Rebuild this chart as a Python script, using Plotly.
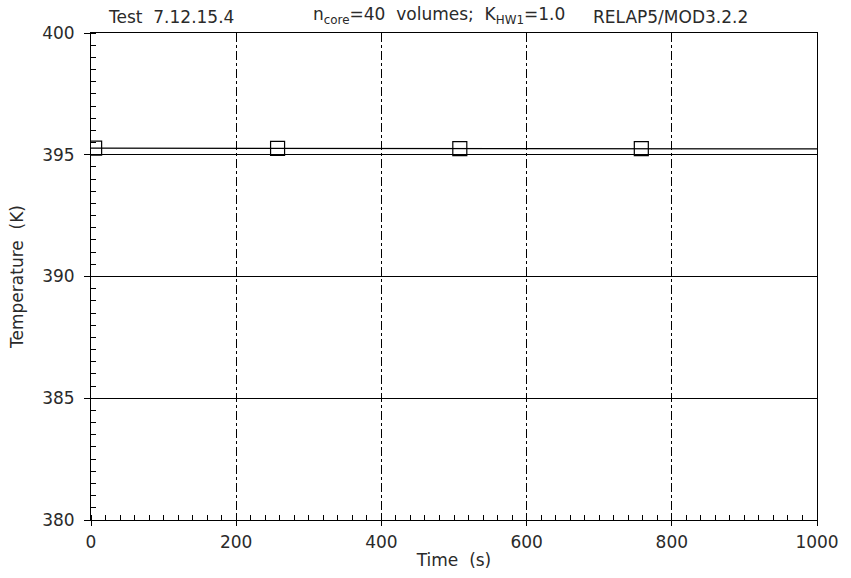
import plotly.graph_objects as go

# Temperature history (RELAP5 run)
time_s = [0, 125, 250, 375, 500, 625, 750, 875, 1000]
temp_k = [395.27, 395.27, 395.26, 395.26, 395.25, 395.25, 395.25, 395.24, 395.24]

# Symbol positions along the curve
mark_time_s = [5, 257, 508, 758]
mark_temp_k = [395.27, 395.26, 395.25, 395.25]

x_ticks = [0, 200, 400, 600, 800, 1000]
y_ticks = [380, 385, 390, 395, 400]

FONT = "DejaVu Sans"
INK = "#2a2a2a"
FS = 17

fig = go.Figure()
fig.add_trace(go.Scatter(
    x=time_s, y=temp_k, mode="lines",
    line=dict(color="black", width=1.2),
    showlegend=False, hoverinfo="skip",
))
fig.add_trace(go.Scatter(
    x=mark_time_s, y=mark_temp_k, mode="markers",
    marker=dict(symbol="square-open", size=14, color="black",
                line=dict(width=1.2, color="black")),
    showlegend=False, hoverinfo="skip",
))

fig.update_layout(
    width=851, height=578,
    margin=dict(l=91, r=26, t=33, b=52),
    paper_bgcolor="white", plot_bgcolor="white",
    font=dict(family=FONT, size=FS, color=INK),
    xaxis=dict(
        range=[0, 1000], tickvals=x_ticks, ticktext=[str(v) for v in x_ticks],
        showline=True, linecolor="black", linewidth=1, mirror=True,
        ticks="outside", ticklen=5, tickcolor="black",
        showgrid=True, gridcolor="black", gridwidth=1, griddash="dashdot",
        zeroline=False,
        minor=dict(dtick=20, ticks="inside", ticklen=5, tickcolor="black", showgrid=False),
        title=dict(text="Time  (s)", font=dict(family=FONT, size=FS, color=INK), standoff=2),
        tickfont=dict(family=FONT, size=FS, color=INK),
        ticklabelstandoff=2,
    ),
    yaxis=dict(
        range=[380, 400], tickvals=y_ticks, ticktext=[str(v) for v in y_ticks],
        showline=True, linecolor="black", linewidth=1, mirror=True,
        ticks="outside", ticklen=6, tickcolor="black",
        showgrid=True, gridcolor="black", gridwidth=1,
        zeroline=False,
        minor=dict(dtick=0.5, ticks="inside", ticklen=5, tickcolor="black", showgrid=False),
        title=dict(text="Temperature  (K)", font=dict(family=FONT, size=FS, color=INK), standoff=14),
        tickfont=dict(family=FONT, size=FS, color=INK),
        ticklabelstandoff=6,
    ),
)

# Header line above the frame
header = [
    ("Test  7.12.15.4", 106),
    ("n<sub>core</sub>=40  volumes;  K<sub>HW1</sub>=1.0", 313),
    ("RELAP5/MOD3.2.2", 597),
]
for text, px in header:
    fig.add_annotation(
        text=text, xref="paper", yref="paper",
        x=(px - 91) / (851 - 91 - 26), y=1.0, xanchor="left", yanchor="bottom",
        yshift=4, showarrow=False,
        font=dict(family=FONT, size=FS, color=INK),
    )

fig.write_html("out.html")
